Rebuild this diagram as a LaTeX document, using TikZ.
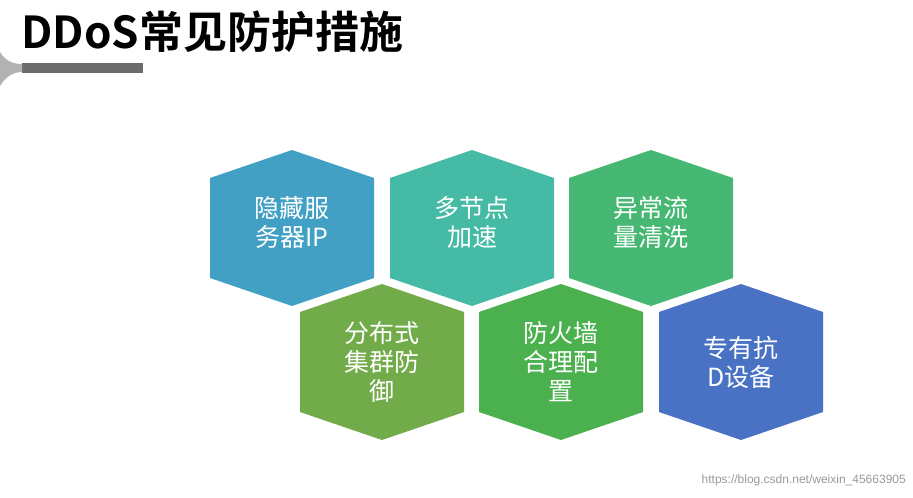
\documentclass[tikz,border=0pt]{standalone}
\usepackage{fontspec}
\newfontfamily\cjk{Noto Sans CJK SC}
\newfontfamily\cjkb{Noto Sans CJK SC Bold}
\definecolor{c1}{HTML}{42A0C4}
\definecolor{c2}{HTML}{45BBA5}
\definecolor{c3}{HTML}{47B873}
\definecolor{c4}{HTML}{72AC4A}
\definecolor{c5}{HTML}{4BB04E}
\definecolor{c6}{HTML}{4A72C4}
\begin{document}
\begin{tikzpicture}[x=1pt,y=-1pt,
  hex/.style={inner sep=0pt,text=white,font=\cjk\fontsize{25}{29}\selectfont,align=center}]
\useasboundingbox (0,0) rectangle (913,498);
\fill[white] (0,0) rectangle (913,498);
\newcommand{\hexat}[4]{%
  \fill[#3] (#1-82,#2-50) -- (#1,#2-78) -- (#1+82,#2-50) -- (#1+82,#2+50) -- (#1,#2+78) -- (#1-82,#2+50) -- cycle;
  \node[hex] (#4) at (#1,#2) {};}
\hexat{292}{228}{c1}{h1}
\hexat{472}{228}{c2}{h2}
\hexat{651}{228}{c3}{h3}
\hexat{382}{362}{c4}{h4}
\hexat{561}{362}{c5}{h5}
\hexat{741}{362}{c6}{h6}
\node[hex] (t1) at (292,222) {隐藏服\\务器IP};
\node[hex] (t2) at (472,222) {多节点\\加速};
\node[hex] (t3) at (651,222) {异常流\\量清洗};
\node[hex] (t4) at (382,362) {分布式\\集群防\\御};
\node[hex] (t5) at (561,362) {防火墙\\合理配\\置};
\node[hex] (t6) at (741,362) {专有抗\\D设备};
\node[anchor=west,inner sep=0pt,font=\cjkb\fontsize{44}{50}\selectfont] (title) at (21,32) {DDoS常见防护措施};
\fill[gray!85!black] (22,63) rectangle (143,73);
\fill[gray!60] (0,52) .. controls (6,62) and (14,64) .. (22,64) -- (22,72) .. controls (14,72) and (6,76) .. (0,86) -- cycle;
\node[anchor=east,inner sep=0pt,text=gray!80,font=\fontspec{Liberation Sans}\fontsize{12}{14}\selectfont] (wm) at (906,480) {https://blog.csdn.net/weixin\_45663905};
\end{tikzpicture}
\end{document}
